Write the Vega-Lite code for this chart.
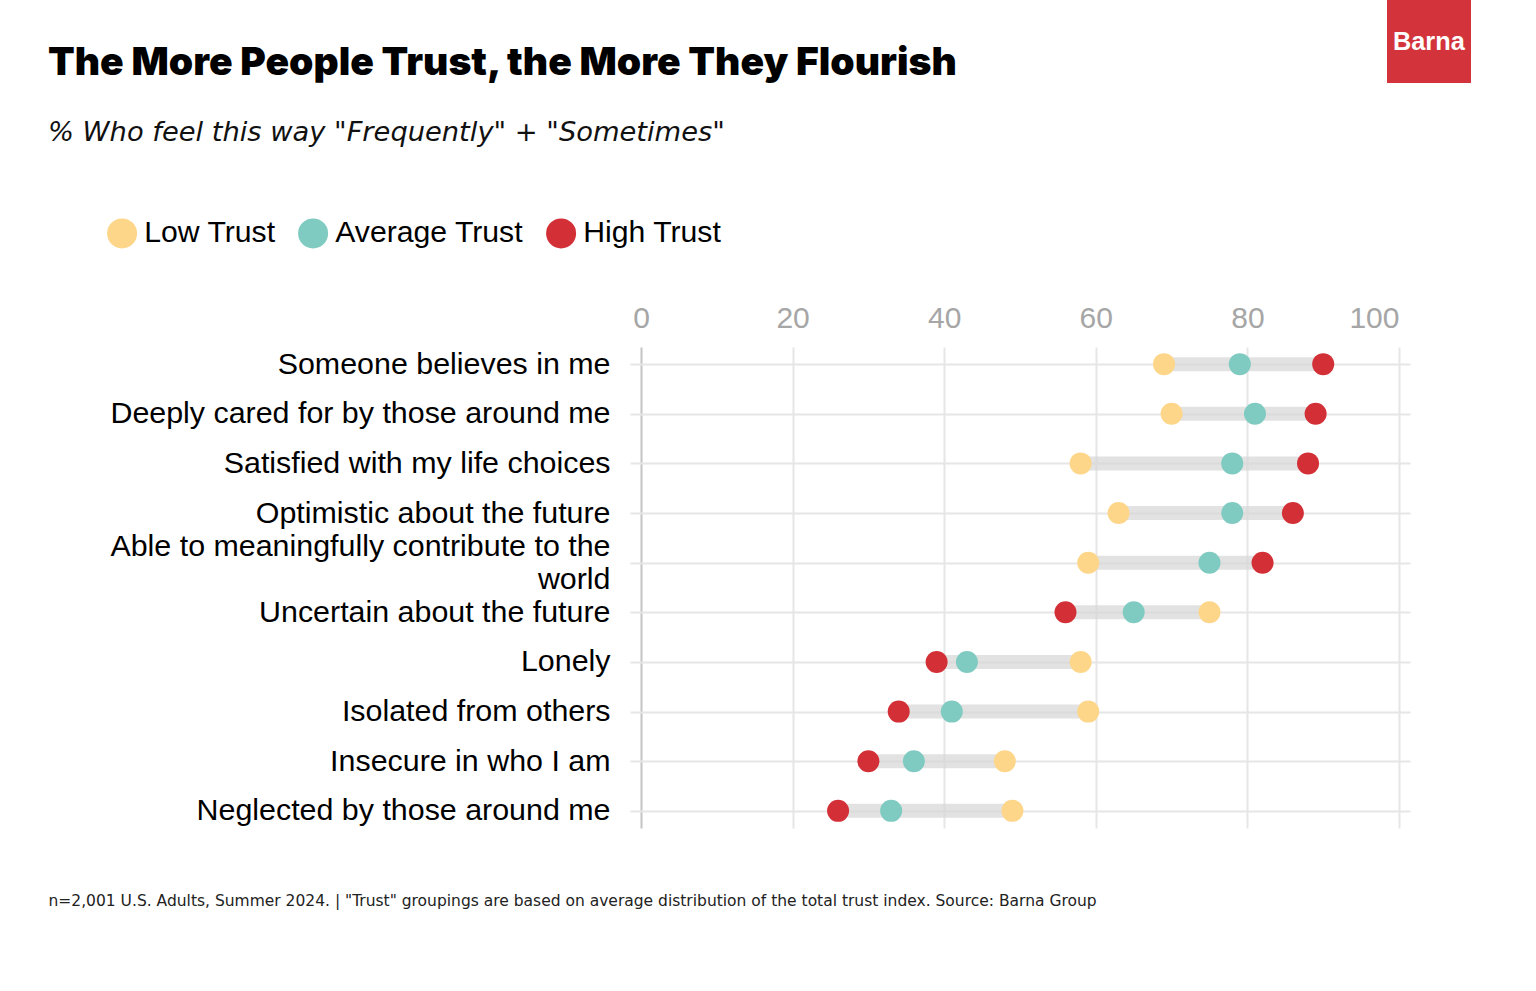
{
  "$schema": "https://vega.github.io/schema/vega-lite/v6.json",
  "width": 780,
  "height": 481,
  "padding": {"left": 48, "top": 0, "right": 60, "bottom": 60},
  "background": "white",
  "title": {
    "text": "The More People Trust, the More They Flourish",
    "subtitle": "% Who feel this way \"Frequently\" + \"Sometimes\"",
    "anchor": "start",
    "frame": "bounds",
    "font": "Inter",
    "fontSize": 39,
    "fontWeight": 900,
    "color": "#000000",
    "subtitleFont": "DejaVu Sans",
    "subtitleFontStyle": "italic",
    "subtitleFontSize": 27.3,
    "subtitleColor": "#111111",
    "subtitlePadding": 36,
    "offset": -146
  },
  "data": {
    "values": [
      {"item": "Someone believes in me", "group": "Low Trust", "value": 69},
      {"item": "Someone believes in me", "group": "Average Trust", "value": 79},
      {"item": "Someone believes in me", "group": "High Trust", "value": 90},
      {"item": "Deeply cared for by those around me", "group": "Low Trust", "value": 70},
      {"item": "Deeply cared for by those around me", "group": "Average Trust", "value": 81},
      {"item": "Deeply cared for by those around me", "group": "High Trust", "value": 89},
      {"item": "Satisfied with my life choices", "group": "Low Trust", "value": 58},
      {"item": "Satisfied with my life choices", "group": "Average Trust", "value": 78},
      {"item": "Satisfied with my life choices", "group": "High Trust", "value": 88},
      {"item": "Optimistic about the future", "group": "Low Trust", "value": 63},
      {"item": "Optimistic about the future", "group": "Average Trust", "value": 78},
      {"item": "Optimistic about the future", "group": "High Trust", "value": 86},
      {"item": "Able to meaningfully contribute to the world", "group": "Low Trust", "value": 59},
      {"item": "Able to meaningfully contribute to the world", "group": "Average Trust", "value": 75},
      {"item": "Able to meaningfully contribute to the world", "group": "High Trust", "value": 82},
      {"item": "Uncertain about the future", "group": "Low Trust", "value": 75},
      {"item": "Uncertain about the future", "group": "Average Trust", "value": 65},
      {"item": "Uncertain about the future", "group": "High Trust", "value": 56},
      {"item": "Lonely", "group": "Low Trust", "value": 58},
      {"item": "Lonely", "group": "Average Trust", "value": 43},
      {"item": "Lonely", "group": "High Trust", "value": 39},
      {"item": "Isolated from others", "group": "Low Trust", "value": 59},
      {"item": "Isolated from others", "group": "Average Trust", "value": 41},
      {"item": "Isolated from others", "group": "High Trust", "value": 34},
      {"item": "Insecure in who I am", "group": "Low Trust", "value": 48},
      {"item": "Insecure in who I am", "group": "Average Trust", "value": 36},
      {"item": "Insecure in who I am", "group": "High Trust", "value": 30},
      {"item": "Neglected by those around me", "group": "Low Trust", "value": 49},
      {"item": "Neglected by those around me", "group": "Average Trust", "value": 33},
      {"item": "Neglected by those around me", "group": "High Trust", "value": 26}
    ]
  },
  "layer": [
    {
      "mark": {"type": "rule", "strokeWidth": 14, "color": "#d6d6d6", "opacity": 0.7},
      "encoding": {
        "y": {
          "field": "item",
          "type": "nominal",
          "sort": [
            "Someone believes in me",
            "Deeply cared for by those around me",
            "Satisfied with my life choices",
            "Optimistic about the future",
            "Able to meaningfully contribute to the world",
            "Uncertain about the future",
            "Lonely",
            "Isolated from others",
            "Insecure in who I am",
            "Neglected by those around me"
          ],
          "scale": {"type": "point", "padding": 0.345},
          "axis": {
            "title": "n=2,001 U.S. Adults, Summer 2024. | \"Trust\" groupings are based on average distribution of the total trust index. Source: Barna Group",
            "titleAngle": 0,
            "titleAlign": "left",
            "titleBaseline": "middle",
            "titleX": -582,
            "titleY": 553,
            "titleFont": "DejaVu Sans",
            "titleFontSize": 15.5,
            "titleFontWeight": "normal",
            "titleColor": "#222222",
            "labelFont": "Liberation Sans",
            "labelFontSize": 30.4,
            "labelColor": "#000000",
            "labelPadding": 20,
            "labelLimit": 600,
            "labelLineHeight": 33,
            "labelExpr": "datum.label == 'Able to meaningfully contribute to the world' ? ['Able to meaningfully contribute to the', 'world'] : datum.label",
            "labelOffset": {"condition": {"test": "datum.value == 'Able to meaningfully contribute to the world'", "value": -16}, "value": 0},
            "domain": false,
            "ticks": false,
            "grid": true,
            "gridColor": "#e6e6e6",
            "gridWidth": 2
          }
        },
        "x": {
          "aggregate": "min",
          "field": "value",
          "type": "quantitative",
          "scale": {"domain": [0, 100], "nice": false, "padding": 11},
          "axis": {
            "orient": "top",
            "values": [0, 20, 40, 60, 80, 100],
            "title": null,
            "domain": false,
            "ticks": false,
            "labelFont": "Liberation Sans",
            "labelFontSize": 30,
            "labelColor": "#a6a6a6",
            "labelPadding": 14,
            "labelAlign": {"condition": {"test": "datum.value === 100", "value": "right"}, "value": "center"},
            "grid": true,
            "gridColor": {"condition": {"test": "datum.value === 0", "value": "#c4c4c4"}, "value": "#e6e6e6"},
            "gridWidth": 2
          }
        },
        "x2": {"aggregate": "max", "field": "value"}
      }
    },
    {
      "mark": {"type": "circle", "size": 484, "opacity": 1},
      "encoding": {
        "y": {
          "field": "item",
          "type": "nominal",
          "sort": [
            "Someone believes in me",
            "Deeply cared for by those around me",
            "Satisfied with my life choices",
            "Optimistic about the future",
            "Able to meaningfully contribute to the world",
            "Uncertain about the future",
            "Lonely",
            "Isolated from others",
            "Insecure in who I am",
            "Neglected by those around me"
          ]
        },
        "x": {"field": "value", "type": "quantitative"},
        "color": {
          "field": "group",
          "type": "nominal",
          "scale": {
            "domain": ["Low Trust", "Average Trust", "High Trust"],
            "range": ["#FED68A", "#7FCBC1", "#D32F36"]
          },
          "legend": {
            "orient": "none",
            "legendX": -523,
            "legendY": -129,
            "direction": "horizontal",
            "title": null,
            "padding": 0,
            "symbolType": "circle",
            "symbolSize": 900,
            "symbolStrokeWidth": 0,
            "labelFont": "Liberation Sans",
            "labelFontSize": 30.2,
            "labelColor": "#000000",
            "labelLimit": 400,
            "labelOffset": 7,
            "columnPadding": 22
          }
        }
      }
    },
    {
      "data": {"values": [{"brand": "Barna"}]},
      "mark": {"type": "point", "opacity": 0},
      "encoding": {
        "shape": {
          "field": "brand",
          "type": "nominal",
          "legend": {
            "orient": "none",
            "legendX": 757,
            "legendY": -347,
            "title": null,
            "fillColor": "#D3343C",
            "padding": 6,
            "symbolSize": 5041,
            "symbolOpacity": 0,
            "symbolStrokeWidth": 0,
            "labelOffset": -71,
            "labelColor": "#ffffff",
            "labelFont": "Liberation Sans",
            "labelFontSize": 25.3,
            "labelFontWeight": "bold"
          }
        }
      }
    }
  ],
  "config": {"view": {"stroke": null}}
}
